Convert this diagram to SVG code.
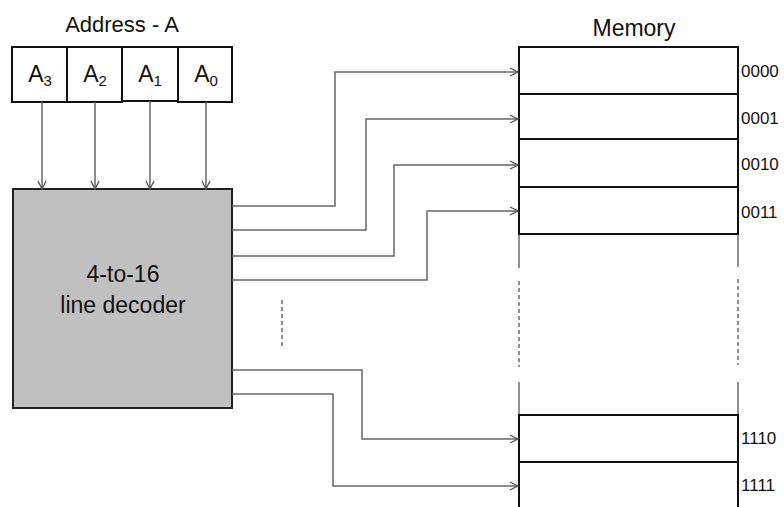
<svg xmlns="http://www.w3.org/2000/svg" width="784" height="507" viewBox="0 0 784 507">
  <defs>
    <marker id="arrow" viewBox="0 0 10 10" refX="9" refY="5" markerWidth="10" markerHeight="10" markerUnits="userSpaceOnUse" orient="auto">
      <path d="M1,1 L9,5 L1,9" fill="none" stroke="#555" stroke-width="1.3"/>
    </marker>
  </defs>
  <style>
    text { font-family: "Liberation Sans", Arial, sans-serif; fill: #111; }
    .title { font-size: 22px; text-anchor: middle; }
    .mem-title { font-size: 23px; text-anchor: middle; }
    .bit { font-size: 23px; text-anchor: middle; }
    .sub { font-size: 15px; }
    .dec { font-size: 23px; text-anchor: middle; }
    .cell { fill: #fff; stroke: #111; stroke-width: 2; }
    .decoder { fill: #c0c0c0; stroke: #222; stroke-width: 2; }
    .addr { font-size: 17px; }
    .wire { fill: none; stroke: #666; stroke-width: 1.5; marker-end: url(#arrow); }
    .guide { stroke: #222; stroke-width: 1; }
    .dash { stroke: #222; stroke-width: 1; stroke-dasharray: 4 3; }
  </style>
  <rect width="784" height="507" fill="#fff"/>

  <!-- address register -->
  <g id="address">
    <text class="title" x="122" y="32">Address - A</text>
    <rect class="cell" x="12" y="47" width="55" height="55"/>
    <rect class="cell" x="67" y="47" width="55" height="55"/>
    <rect class="cell" x="122" y="47" width="56" height="54"/>
    <rect class="cell" x="178" y="47" width="54" height="55"/>
    <text class="bit" x="40" y="82">A<tspan class="sub" dy="4">3</tspan></text>
    <text class="bit" x="95" y="82">A<tspan class="sub" dy="4">2</tspan></text>
    <text class="bit" x="150" y="82">A<tspan class="sub" dy="4">1</tspan></text>
    <text class="bit" x="206" y="82">A<tspan class="sub" dy="4">0</tspan></text>
  </g>

  <!-- decoder -->
  <g id="decoder">
    <rect class="decoder" x="13" y="189" width="219" height="219"/>
    <text class="dec" x="123" y="282">4-to-16</text>
    <text class="dec" x="123" y="313">line decoder</text>
  </g>

  <!-- memory -->
  <g id="memory">
    <text class="mem-title" x="634" y="36">Memory</text>
    <rect class="cell" x="519" y="47" width="219" height="47"/>
    <rect class="cell" x="519" y="94" width="219" height="45"/>
    <rect class="cell" x="519" y="139" width="219" height="48"/>
    <rect class="cell" x="519" y="187" width="219" height="47"/>
    <line class="guide" x1="519" y1="234" x2="519" y2="268"/>
    <line class="dash" x1="519" y1="281" x2="519" y2="367"/>
    <line class="guide" x1="519" y1="382" x2="519" y2="415"/>
    <line class="guide" x1="738" y1="234" x2="738" y2="267"/>
    <line class="dash" x1="738" y1="279" x2="738" y2="365"/>
    <line class="guide" x1="738" y1="382" x2="738" y2="415"/>
    <rect class="cell" x="519" y="415" width="219" height="47"/>
    <rect class="cell" x="519" y="462" width="219" height="60"/>
    <text class="addr" x="741" y="77">0000</text>
    <text class="addr" x="741" y="124">0001</text>
    <text class="addr" x="741" y="170">0010</text>
    <text class="addr" x="741" y="218">0011</text>
    <text class="addr" x="741" y="444">1110</text>
    <text class="addr" x="741" y="491">1111</text>
  </g>

  <!-- connectors -->
  <g id="connectors">
    <line class="wire" x1="42" y1="102" x2="42" y2="189"/>
    <line class="wire" x1="95" y1="102" x2="95" y2="189"/>
    <line class="wire" x1="150" y1="101" x2="150" y2="189"/>
    <line class="wire" x1="206" y1="102" x2="206" y2="189"/>
    <polyline class="wire" points="232,206 335,206 335,72 518,72"/>
    <polyline class="wire" points="232,230 366,230 366,119 518,119"/>
    <polyline class="wire" points="232,256 394,256 394,165 518,165"/>
    <polyline class="wire" points="232,280 427,280 427,211 518,211"/>
    <polyline class="wire" points="232,370 362,370 362,439 518,439"/>
    <polyline class="wire" points="232,394 333,394 333,486 518,486"/>
    <line class="dash" x1="282" y1="300" x2="282" y2="348"/>
  </g>
</svg>
